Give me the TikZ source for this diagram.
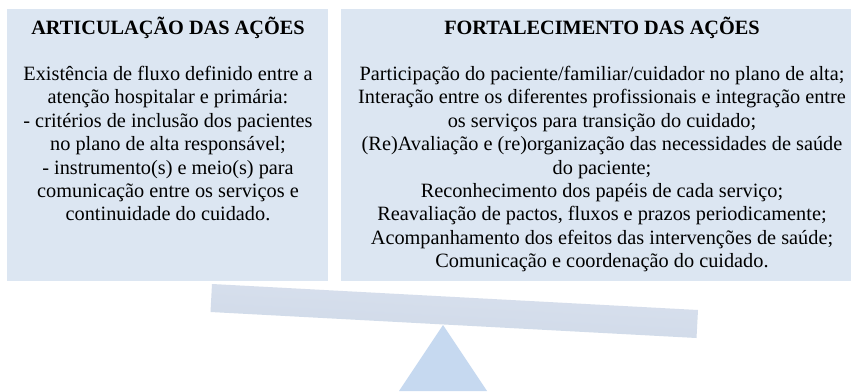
\documentclass[tikz,border=0pt]{standalone}
\usepackage{fontspec}
\setmainfont{Liberation Serif}
\definecolor{boxfill}{HTML}{DCE6F2}
\definecolor{plankA}{HTML}{D9E1EE}
\definecolor{plankB}{HTML}{CFD9E8}
\definecolor{trifill}{HTML}{C6D9F0}
\begin{document}
\begin{tikzpicture}[x=1pt,y=-1pt,
  panel/.style={fill=boxfill,draw=none},
  titletext/.style={font=\fontsize{20.3}{23.4}\selectfont\bfseries,anchor=base,inner sep=0pt},
  bodytext/.style={font=\fontsize{20.3}{23.4}\selectfont,align=center,anchor=north,inner sep=0pt}]
\useasboundingbox (0,0) rectangle (851,391);
\fill[white] (0,0) rectangle (851,391);
% panels
\path[panel] (7,9) rectangle (328,281) coordinate (lbr);
\path[panel] (341,9) rectangle (851,281) coordinate (rbr);
\node[titletext] (ltitle) at (168,34.3) {ARTICULAÇÃO DAS AÇÕES};
\node[titletext] (rtitle) at (602,34.3) {FORTALECIMENTO DAS AÇÕES};
\node[bodytext] (lbody) at (168,66) {Existência de fluxo definido entre a\\
atenção hospitalar e primária:\\
- critérios de inclusão dos pacientes\\
no plano de alta responsável;\\
- instrumento(s) e meio(s) para\\
comunicação entre os serviços e\\
continuidade do cuidado.};
\node[bodytext] (rbody) at (602,66) {Participação do paciente/familiar/cuidador no plano de alta;\\
Interação entre os diferentes profissionais e integração entre\\
os serviços para transição do cuidado;\\
(Re)Avaliação e (re)organização das necessidades de saúde\\
do paciente;\\
Reconhecimento dos papéis de cada serviço;\\
Reavaliação de pactos, fluxos e prazos periodicamente;\\
Acompanhamento dos efeitos das intervenções de saúde;\\
Comunicação e coordenação do cuidado.};
% plank
\shade[top color=plankA,bottom color=plankB,shading angle=-3.06]
  (212,284) coordinate (p1) -- (698,310) coordinate (p2) -- (696.5,338) coordinate (p3) -- (210.5,312) coordinate (p4) -- cycle;
% fulcrum
\fill[trifill] (443,325) coordinate (apex) -- (487,391) coordinate (br) -- (399,391) coordinate (bl) -- cycle;
\end{tikzpicture}
\end{document}
